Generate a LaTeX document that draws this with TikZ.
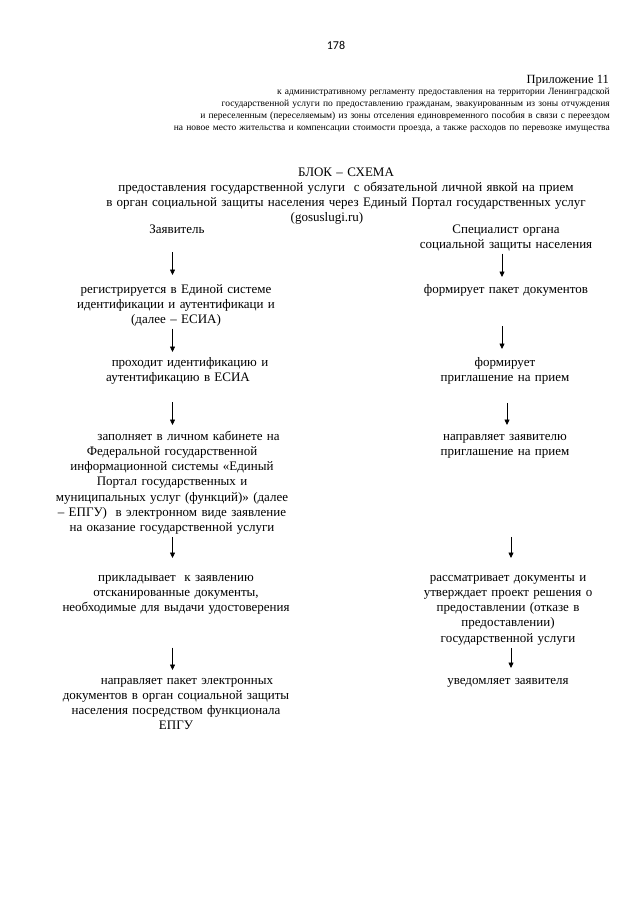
\documentclass[tikz,border=0pt]{standalone}
\usepackage{fontspec}
\setmainfont{Liberation Serif}
\newfontfamily\pagenumfont{Carlito}
\usetikzlibrary{arrows.meta,calc}
\tikzset{
  txt/.style={anchor=base, inner sep=0pt, text width=330pt, align=center, font=\fontsize{13}{15.3}\selectfont},
  hdr/.style={anchor=base east, inner sep=0pt, text width=480pt, align=right, font=\fontsize{9.5}{12}\selectfont},
  arr/.style={draw, line width=0.75pt, -{Triangle[length=5.5pt,width=5pt]}},
}
\begin{document}
\begin{tikzpicture}[x=1pt,y=-1pt]
\useasboundingbox[fill=white] (0,0) rectangle (640,905);
% page header
\node[anchor=base, inner sep=0pt, font=\pagenumfont\fontsize{12}{14}\selectfont] (pnum) at (336,49) {178};
\node[anchor=base east, inner sep=0pt, font=\fontsize{12.5}{14}\selectfont] (app) at (609,83) {Приложение 11};
\node[hdr] (appt) at (610,94) {к  административному регламенту предоставления на территории Ленинградской\\
государственной услуги по  предоставлению  гражданам, эвакуированным из зоны отчуждения\\
и переселенным (переселяемым)  из зоны отселения единовременного пособия в связи с переездом\\
на новое место жительства и компенсации стоимости проезда, а также расходов по перевозке имущества};
% title
\node[txt, text width=560pt] (title) at (346,176) {БЛОК – СХЕМА\\
предоставления государственной услуги\ \ с обязательной личной явкой на прием\\
в орган социальной защиты населения через Единый Портал государственных услуг\\
\hspace*{-38pt}(gosuslugi.ru)};
% column heads
\node[txt] (zay) at (177,233) {Заявитель};
\node[txt] (spec) at (506,233) {Специалист органа\\социальной защиты населения};
% left column
\node[txt] (reg) at (176,293) {регистрируется в Единой системе\\идентификации и аутентификаци и\\(далее – ЕСИА)};
\node[txt] (pro) at (178,366) {\hspace*{24pt}проходит идентификацию и\\аутентификацию в ЕСИА};
\node[txt] (zap) at (172,440) {\hspace*{33pt}заполняет в личном кабинете на\\
Федеральной государственной\\
информационной системы «Единый\\
Портал государственных и\\
муниципальных услуг (функций)» (далее\\
– ЕПГУ)\ \ в электронном виде заявление\\
на оказание государственной услуги};
\node[txt] (prik) at (176,581) {прикладывает\ \ к заявлению\\отсканированные документы,\\необходимые для выдачи удостоверения};
\node[txt] (napel) at (176,684) {\hspace*{22pt}направляет пакет электронных\\документов в орган социальной защиты\\населения посредством функционала\\ЕПГУ};
% right column
\node[txt] (form1) at (506,293) {формирует пакет документов};
\node[txt] (form2) at (505,366) {формирует\\приглашение на прием};
\node[txt] (napr) at (505,440) {направляет заявителю\\приглашение на прием};
\node[txt] (rass) at (508,581) {рассматривает документы и\\утверждает проект решения о\\предоставлении (отказе в\\предоставлении)\\государственной услуги};
\node[txt] (uved) at (508,684) {уведомляет заявителя};
% arrows, left column (x = 172.5)
\draw[arr] ($(zay.south)+(-4.5,19)$) -- ($(reg.base)+(-3.5,-18)$);
\draw[arr] ($(reg.south)+(-3.5,2)$) -- ($(pro.base)+(-5.5,-14)$);
\draw[arr] ($(pro.south)+(-5.5,18)$) -- ($(zap.base)+(0.5,-15)$);
\draw[arr] ($(zap.south)+(0.5,2)$) -- ($(prik.base)+(-3.5,-23)$);
\draw[arr] ($(prik.south)+(-3.5,33)$) -- ($(napel.base)+(-3.5,-14)$);
% arrows, right column
\draw[arr] ($(spec.south)+(-4,2.5)$) -- ($(form1.base)+(-4,-16)$);
\draw[arr] ($(form1.south)+(-4,30)$) -- ($(form2.base)+(-3,-17)$);
\draw[arr] ($(form2.south)+(2,18.5)$) -- ($(napr.base)+(2,-15)$);
\draw[arr] ($(napr.south)+(6,78.5)$) -- ($(rass.base)+(3,-23)$);
\draw[arr] ($(rass.south)+(3,3)$) -- ($(uved.base)+(3,-16)$);
\end{tikzpicture}
\end{document}
